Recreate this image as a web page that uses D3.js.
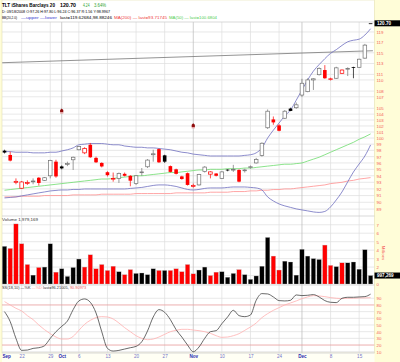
<!DOCTYPE html>
<html>
<head>
<meta charset="utf-8">
<script src="https://cdn.jsdelivr.net/npm/d3@7"></script>
<style>
  body { margin: 0; background: #fffdd8; }
  svg { display: block; font-family: "Liberation Sans", Arial, sans-serif; }
</style>
</head>
<body>
<svg id="chart" width="400" height="362"></svg>
<script>
// TLT daily bars, one entry per trading day (17 Sep .. 17 Dec 2008)
const opens  = [97.95, 97.26, 93.0, 92.1, 92.85, 93.15, 93.7, 93.3, 94.0, 96.2,
  95.45, 95.85, 96.5, 98.1, 97.6, 98.9, 96.8, 96.0, 94.55, 93.55,
  93.6, 94.3, 94.0, 92.8, 94.55, 95.4, 97.3, 98.2, 97.2, 95.5,
  95.0, 93.9, 94.4, 92.4, 92.6, 94.65, 94.25, 94.35, 93.6, 94.95,
  94.95, 94.9, 94.8, 95.3, 96.0, 97.2, 101.7, 103.1, 102.1, 103.3,
  104.95, 105.1, 107.3, 107.9, 110.0, 110.95, 111.8, 110.1, 110.3, 111.2,
  112.0, 112.35, 112.3, 114.0, 120.7]
const highs  = [98.1, 97.8, 93.6, 93.2, 93.3, 93.6, 93.8, 93.8, 96.5, 96.5,
  95.6, 96.2, 97.0, 98.7, 98.5, 99.2, 97.0, 96.1, 94.7, 94.5,
  94.5, 94.5, 94.1, 94.1, 95.2, 96.6, 98.1, 98.3, 97.3, 95.6,
  95.1, 94.0, 94.5, 92.8, 94.3, 95.5, 94.7, 94.4, 94.7, 95.0,
  95.7, 95.0, 95.1, 95.6, 96.8, 99.3, 104.8, 103.6, 102.3, 104.7,
  105.1, 106.0, 110.2, 110.3, 110.3, 112.3, 112.7, 110.4, 112.4, 111.9,
  112.3, 112.4, 113.9, 116.7, 120.7]
const lows   = [97.5, 96.24, 92.7, 92.0, 92.6, 92.7, 92.5, 93.2, 93.6, 93.7,
  95.0, 95.5, 94.9, 98.0, 97.4, 96.8, 96.0, 95.3, 93.9, 93.1,
  92.9, 93.9, 92.4, 92.6, 94.0, 95.2, 96.2, 96.0, 96.0, 94.5,
  94.2, 93.4, 92.5, 92.2, 92.5, 94.5, 93.6, 93.9, 93.5, 94.7,
  94.6, 93.0, 94.5, 95.1, 95.9, 97.0, 101.5, 102.2, 101.1, 103.2,
  104.5, 104.9, 107.0, 107.8, 108.2, 110.8, 110.2, 109.9, 110.2, 111.1,
  110.7, 110.3, 112.2, 113.9, 120.7]
const closes = [97.65, 96.37, 93.15, 93.05, 92.95, 93.2, 92.9, 93.7, 96.4, 93.9,
  95.15, 95.9, 96.9, 98.6, 98.3, 96.9, 96.1, 95.45, 94.1, 93.6,
  94.35, 94.0, 93.25, 94.0, 94.6, 96.45, 97.45, 96.1, 96.2, 94.6,
  94.3, 93.5, 92.6, 92.5, 94.2, 95.35, 94.6, 94.0, 94.6, 94.85,
  95.0, 93.1, 94.9, 95.4, 96.55, 99.15, 104.5, 102.6, 101.2, 104.5,
  104.55, 105.6, 109.4, 110.0, 110.2, 112.1, 110.3, 110.2, 112.2, 111.8,
  112.1, 112.25, 113.8, 116.46, 120.7]
const prevClose = 97.3

// volume, millions of shares
const volumes = [4.45, 4.2, 7.1, 4.75, 2.3, 1.05, 1.95, 2.0, 4.75, 1.4,
  1.8, 0.9, 1.95, 2.95, 2.0, 3.45, 1.8, 2.3, 1.6, 2.1,
  1.45, 1.1, 1.7, 1.25, 1.3, 1.1, 1.8, 1.6, 1.6, 1.6,
  1.8, 1.45, 2.3, 1.2, 1.65, 2.0, 1.0, 1.4, 1.45, 0.8,
  1.25, 1.7, 1.1, 0.55, 0.95, 2.1, 5.5, 3.3, 1.65, 2.7,
  2.6, 1.05, 4.1, 3.3, 3.0, 2.9, 4.6, 2.2, 2.05, 2.5,
  2.5, 2.6, 1.75, 4.05, 0.997]

const bbUpper = [97.8, 97.8, 97.7, 97.7, 97.7, 97.6, 97.6, 97.6, 97.7, 97.7,
  97.9, 98.1, 98.4, 98.9, 99.0, 99.1, 99.1, 99.1, 99.0, 98.9,
  98.9, 98.7, 98.6, 98.5, 98.5, 98.4, 98.4, 98.3, 98.2, 98.1,
  97.9, 97.7, 97.6, 97.4, 97.3, 97.2, 97.1, 97.1, 97.1, 97.1,
  97.1, 97.1, 97.2, 97.3, 97.6, 98.4, 100.0, 101.3, 102.5, 103.7,
  104.7, 106.4, 108.2, 110.0, 111.6, 112.8, 113.9, 114.9, 115.6, 116.4,
  117.1, 117.4, 117.6, 118.4, 119.63]
const bbLower = [90.65, 90.72, 90.8, 90.95, 91.1, 91.25, 91.4, 91.54, 91.69, 91.77,
  91.84, 91.84, 91.92, 91.92, 91.99, 91.99, 91.99, 91.99, 91.99, 91.99,
  91.99, 91.99, 92.07, 92.14, 92.22, 92.37, 92.52, 92.6, 92.6, 92.52,
  92.37, 92.14, 91.92, 91.84, 91.92, 92.07, 92.14, 92.14, 92.14, 92.22,
  92.29, 92.29, 92.29, 92.22, 92.14, 91.84, 90.8, 90.2, 89.76, 89.47,
  89.25, 89.03, 88.88, 88.74, 88.59, 88.52, 88.66, 89.32, 90.35, 91.54,
  93.07, 94.59, 95.84, 97.1, 98.88]
const ma50 = [91.8, 91.9, 92.0, 92.1, 92.2, 92.3, 92.4, 92.5, 92.6, 92.7,
  92.8, 92.9, 93.0, 93.1, 93.2, 93.3, 93.4, 93.5, 93.5, 93.6,
  93.7, 93.8, 93.9, 94.0, 94.0, 94.1, 94.2, 94.3, 94.4, 94.5,
  94.5, 94.6, 94.7, 94.8, 94.9, 94.9, 95.0, 95.0, 95.0, 95.1,
  95.1, 95.1, 95.2, 95.2, 95.3, 95.4, 95.5, 95.6, 95.7, 95.8,
  95.8, 95.9, 96.0, 96.3, 96.6, 96.9, 97.3, 97.7, 98.1, 98.5,
  98.9, 99.3, 99.8, 100.2, 100.68]
const ma200 = [90.8, 90.8, 90.8, 90.9, 90.9, 90.9, 90.9, 91.0, 91.0, 91.0,
  91.0, 91.0, 91.1, 91.1, 91.1, 91.1, 91.1, 91.2, 91.2, 91.2,
  91.2, 91.2, 91.2, 91.3, 91.3, 91.3, 91.3, 91.3, 91.3, 91.3,
  91.4, 91.4, 91.4, 91.4, 91.4, 91.4, 91.5, 91.5, 91.5, 91.5,
  91.6, 91.6, 91.6, 91.7, 91.7, 91.8, 91.8, 91.9, 91.9, 92.0,
  92.0, 92.1, 92.2, 92.3, 92.4, 92.5, 92.6, 92.8, 92.9, 93.0,
  93.2, 93.3, 93.5, 93.6, 93.72]

// slow stochastic
const stochK = [70, 55, 30, 12, 12.5, 15, 16, 19, 30, 40,
  48, 56, 73, 86, 89, 84, 68, 40, 15, 11,
  12, 14, 16, 18, 25, 41, 62, 73, 69, 58,
  43, 32, 20, 10, 17, 30, 40, 41.5, 52, 62,
  72, 64, 62.5, 65, 87, 97, 96.5, 92, 86.5, 86,
  87, 95, 94, 94.5, 95.5, 92, 86.5, 84, 83.5, 90,
  91.5, 91.5, 92, 92.5, 96.21]
const stochD = [85, 80, 75, 71, 64, 58, 50, 43, 37, 32,
  29, 29, 33, 42, 51, 57, 61, 62.5, 62, 59,
  53, 46, 40, 34, 30, 28, 29, 32, 36, 40,
  42, 43.5, 43.5, 42.5, 41.5, 40, 37.5, 34, 31.5, 32,
  34, 37, 42, 47, 53, 61, 67, 72, 76, 80,
  83, 86, 89.5, 92, 94, 93.5, 92.5, 91, 90, 89.5,
  90, 90, 90.5, 90.5, 90.91]

// drawn trend line (bar index, price) and dividend flags
const trendIdx = [-0.4, 64.4]
const trendPrice = [113.15, 115.39]
const divIdx = [10, 33]
const divPrice = [104.5, 102.0]

const dateIdx = [0, 3, 8, 10, 13, 18, 23, 28, 33, 38, 43, 48, 52, 57, 62]
const dateLabels = ["Sep", "22", "29", "Oct", "6", "13", "20", "27", "Nov", "10", "17", "24", "Dec", "8", "15"]
const monthNames = ["Sep", "Oct", "Nov", "Dec"]
const priceTicks = [119, 117, 115, 113, 111, 110, 108, 107, 105, 104, 103, 102, 101, 100, 99, 98, 97, 96, 95, 94, 93, 92, 91, 90, 89]
const volTicks = [0, 2, 3, 4, 5, 6, 7]
const volGrid = [1, 2, 3, 4, 5, 6, 7]
const stochTicks = [10, 20, 30, 40, 50, 60, 70, 80, 90]
const stochBands = [20, 80]

const svg = d3.select("#chart")
const left = 2, right = 374.5
const priceTop = 22, priceBot = 216, volBot = 285, stoBot = 353

const x = d3.scaleLinear().domain([0, 64]).range([4.5, 370.6])
const y = d3.scaleLog().domain([88, 121]).range([216, 21.8])
const yVol = d3.scaleLinear().domain([0, 7.8]).range([284, 218])
const ySto = d3.scaleLinear().domain([0, 100]).range([358.4, 291.6])

const grid = "#dedede", monthGrid = "#b9b9b9"

// white chart area
svg.append("rect").attr("x", left).attr("y", 0).attr("width", right - left).attr("height", stoBot)
  .attr("fill", "#fff").attr("stroke", "#e4e0b0").attr("stroke-width", 0.6)
svg.append("rect").attr("x", left).attr("y", stoBot).attr("width", right - left).attr("height", 362 - stoBot)
  .attr("fill", "#fffff4")

const defs = svg.append("defs")
const clip = (id, y0, y1) => defs.append("clipPath").attr("id", id)
  .append("rect").attr("x", left).attr("y", y0).attr("width", right - left).attr("height", y1 - y0)
clip("cp", priceTop, priceBot)
clip("cv", priceBot, volBot)
clip("cs", volBot, stoBot)

// horizontal grid
const hgrid = (vals, scale) => svg.append("g").selectAll("line").data(vals).enter().append("line")
  .attr("x1", left).attr("x2", right)
  .attr("y1", d => scale(d)).attr("y2", d => scale(d))
  .attr("stroke", grid).attr("stroke-width", 0.7)
hgrid(priceTicks, y)
hgrid(volGrid, yVol)
hgrid(stochTicks.filter(d => !stochBands.includes(d)), ySto)

// vertical grid
svg.append("g").selectAll("line").data(dateIdx.slice(1)).enter().append("line")
  .attr("x1", d => x(d)).attr("x2", d => x(d))
  .attr("y1", priceTop).attr("y2", stoBot)
  .attr("stroke", (d, i) => monthNames.includes(dateLabels[i + 1]) ? monthGrid : grid)
  .attr("stroke-width", 0.7)

// panel frames
svg.append("g").selectAll("line").data([priceTop, priceBot, volBot, stoBot]).enter().append("line")
  .attr("x1", left).attr("x2", right).attr("y1", d => d).attr("y2", d => d)
  .attr("stroke", "#c8c8c8").attr("stroke-width", 0.7)

// price panel overlays
const pricePanel = svg.append("g").attr("clip-path", "url(#cp)")
const line = (vals) => d3.line().x((d, i) => x(i)).y(d => y(d)).curve(d3.curveMonotoneX)(vals)

pricePanel.append("line")
  .attr("x1", x(trendIdx[0])).attr("y1", y(trendPrice[0]))
  .attr("x2", x(trendIdx[1])).attr("y2", y(trendPrice[1]))
  .attr("stroke", "#777").attr("stroke-width", 0.8)
pricePanel.append("path").attr("d", line(ma200)).attr("fill", "none").attr("stroke", "#ff8f8f").attr("stroke-width", 0.8)
pricePanel.append("path").attr("d", line(ma50)).attr("fill", "none").attr("stroke", "#6ddc6d").attr("stroke-width", 0.8)
pricePanel.append("path").attr("d", line(bbUpper)).attr("fill", "none").attr("stroke", "#6f6fbf").attr("stroke-width", 0.8)
pricePanel.append("path").attr("d", line(bbLower)).attr("fill", "none").attr("stroke", "#6f6fbf").attr("stroke-width", 0.8)

// candles
const bars = closes.map((c, i) => ({
  i, o: opens[i], h: highs[i], l: lows[i], c,
  up: c >= (i ? closes[i - 1] : prevClose)
}))
const candleColor = d => d.up ? "#000" : "#f00"
const hollow = d => d.c > d.o
const bodyW = 3.6

const candles = pricePanel.append("g").selectAll("g").data(bars).enter().append("g")
candles.append("line")
  .attr("x1", d => x(d.i)).attr("x2", d => x(d.i))
  .attr("y1", d => y(d.h)).attr("y2", d => y(d.l))
  .attr("stroke", d => d.up ? (hollow(d) ? "#707070" : "#000") : "#f00")
  .attr("stroke-width", 0.7)
candles.append("rect")
  .attr("x", d => x(d.i) - bodyW / 2)
  .attr("width", bodyW)
  .attr("y", d => y(Math.max(d.o, d.c)))
  .attr("height", d => Math.max(0.8, Math.abs(y(d.o) - y(d.c))))
  .attr("fill", d => hollow(d) ? "#fff" : candleColor(d))
  .attr("stroke", d => hollow(d) ? (d.up ? "#707070" : "#f00") : "none")
  .attr("stroke-width", 0.7)

// dividend flags
const flags = pricePanel.append("g").selectAll("g").data(divIdx).enter().append("g")
  .attr("transform", (d, i) => `translate(${x(d)},${y(divPrice[i])})`)
flags.append("path").attr("d", "M-1.6,-1.2L0,-2.6L1.6,-1.2L1.6,1L-1.6,1Z").attr("fill", "#8e0b0b")
flags.append("rect").attr("x", -1.6).attr("y", 1).attr("width", 3.2).attr("height", 1.4).attr("fill", "#e6a0a0")

// volume
svg.append("g").attr("clip-path", "url(#cv)").selectAll("rect").data(bars).enter().append("rect")
  .attr("x", d => x(d.i) - 2.2).attr("width", 4.4)
  .attr("y", d => yVol(volumes[d.i]))
  .attr("height", d => yVol(0) - yVol(volumes[d.i]))
  .attr("fill", d => d.up ? "#000" : "#f00")
  .attr("stroke", "#bbb").attr("stroke-width", 0.3)

// stochastic
const stoPanel = svg.append("g").attr("clip-path", "url(#cs)")
stoPanel.selectAll("line").data(stochBands).enter().append("line")
  .attr("x1", left).attr("x2", right).attr("y1", d => ySto(d)).attr("y2", d => ySto(d))
  .attr("stroke", "#e79a9a").attr("stroke-width", 0.8)
const sline = (vals) => d3.line().x((d, i) => x(i)).y(d => ySto(d)).curve(d3.curveMonotoneX)(vals)
stoPanel.append("path").attr("d", sline(stochD)).attr("fill", "none").attr("stroke", "#ffb0b0").attr("stroke-width", 0.8)
stoPanel.append("path").attr("d", sline(stochK)).attr("fill", "none").attr("stroke", "#444").attr("stroke-width", 0.8)

// right axes
const rightAxis = (scale, ticks, fmt) => {
  const g = svg.append("g").attr("transform", `translate(${right},0)`)
    .call(d3.axisRight(scale).tickValues(ticks).tickFormat(fmt).tickSize(0).tickPadding(2))
  g.select(".domain").remove()
  g.attr("font-size", 4.3).attr("font-family", null)
  g.selectAll("text").attr("fill", "#f45a5a")
  return g
}
rightAxis(y, priceTicks, d3.format("d"))
rightAxis(yVol, volTicks, d3.format("d"))
rightAxis(ySto, stochTicks, d3.format("d"))

svg.append("text").attr("transform", "translate(381.5,253) rotate(90)")
  .attr("text-anchor", "middle").attr("font-size", 4.3).attr("fill", "#f45a5a").text("Millions")

// date axis
const xAxis = svg.append("g").attr("transform", `translate(0,${stoBot})`)
  .call(d3.axisBottom(x).tickValues(dateIdx).tickFormat((d, i) => dateLabels[i]).tickSize(0).tickPadding(2.2))
xAxis.select(".domain").remove()
xAxis.attr("font-size", 4.6).attr("font-family", null)
xAxis.selectAll("text")
  .attr("fill", (d, i) => monthNames.includes(dateLabels[i]) ? "#2b2bb0" : "#7474c8")
  .attr("font-weight", (d, i) => monthNames.includes(dateLabels[i]) ? "bold" : null)
xAxis.selectAll("text").filter((d, i) => i === 0).attr("text-anchor", "start").attr("x", -2.6)

// value boxes
const valueBox = (yc, label) => {
  svg.append("rect").attr("x", right).attr("y", yc - 3).attr("width", 400 - right).attr("height", 6).attr("fill", "#000")
  svg.append("text").attr("x", right + 2.5).attr("y", yc + 1.7).attr("font-size", 4.6).attr("font-weight", "bold")
    .attr("fill", "#fff").text(label)
}
valueBox(y(closes[64]), "120.70")
valueBox(yVol(1), "997,269")

// texts
const txt = (x0, y0, s, o = {}) => {
  const t = svg.append("text").attr("x", x0).attr("y", y0).text(s)
    .attr("font-size", o.size || 4.3).attr("fill", o.fill || "#000")
  if (o.bold) t.attr("font-weight", "bold")
  if (o.len) t.attr("textLength", o.len).attr("lengthAdjust", "spacingAndGlyphs")
  return t
}
txt(2, 7.2, "TLT iShares Barclays 20", { size: 5, bold: true, len: 53 })
txt(60, 7.2, "120.70", { size: 5, bold: true, len: 16 })
txt(83, 7.2, "4.24", { size: 5, fill: "#2fa52f", len: 6.5 })
txt(94, 7.2, "3.64%", { size: 5, fill: "#2fa52f", len: 12 })
txt(2, 13.4, "D: 09/18/2008 O:97.26 H:97.80 L:96.24 C:96.37 R:1.56 Y:98.9967", { size: 4.3, len: 108 })
txt(2, 19.3, "BB(20,2.0)", { len: 15 })
txt(21, 19.3, "\u2014upper \u2014lower", { fill: "#3b3bd0", len: 36 })
txt(60, 19.3, "last=119.62684,98.88246", { len: 52 })
txt(114, 19.3, "MA(200) \u2014 last=93.71745", { fill: "#ee3b3b", len: 53 })
txt(169, 19.3, "MA(50) \u2014 last=100.6804", { fill: "#4fce4f", len: 48 })
txt(2, 221, "Volume 1,979,169", { fill: "#333", len: 36 })

// oscillator legend: parts laid end to end at their natural width
const stoParts = [["SS(18,10) \u2014%K", "#333"], ["\u2014%D", "#ff9a9a"], ["last=96.21005,", "#333"], ["90.90973", "#f06060"]]
let legendX = 2
stoParts.forEach(([s, c]) => {
  const t = txt(legendX, 289.3, s, { size: 3.9, fill: c })
  legendX += t.node().getComputedTextLength() + 1.2
})
</script>
</body>
</html>
